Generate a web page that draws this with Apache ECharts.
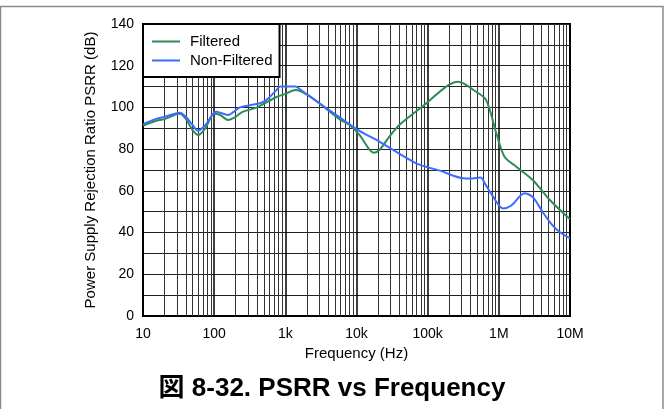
<!DOCTYPE html>
<html>
<head>
<meta charset="utf-8">
<script src="https://cdn.jsdelivr.net/npm/echarts@6/dist/echarts.min.js"></script>
<style>
html,body{margin:0;padding:0;background:#fff;}
#chart{width:664px;height:409px;}
</style>
</head>
<body>
<div id="chart"></div>
<script>
// Frequencies (Hz) and PSRR (dB)
var filteredFreq = [10, 15, 20, 30, 33, 40, 50, 60, 75, 100, 120, 157, 200, 250, 400, 750, 1000, 1400, 2000, 3000, 5800, 8000, 11000, 15300, 17600, 21000, 29000, 40000, 96000, 182000, 266000, 480000, 665000, 922000, 1200000, 1760000, 3000000, 5200000, 10000000];
var filteredPsrr = [91.2, 93.5, 94.4, 96.8, 97, 94.5, 89, 86.8, 90, 97, 96.5, 94, 95.5, 97.9, 100, 105, 106.5, 108.3, 106.2, 102, 94.3, 91.6, 86.8, 79.6, 78.3, 79.6, 86, 91.6, 102, 110, 112.3, 107.5, 103.5, 87.6, 76.4, 71.6, 65.2, 55.6, 46.4];
var nonFilteredFreq = [10, 15, 20, 33, 40, 50, 59, 75, 107, 157, 230, 437, 540, 750, 850, 1400, 1600, 3000, 5800, 11000, 21000, 69000, 148000, 316000, 400000, 550000, 650000, 830000, 1150000, 1500000, 2300000, 3000000, 4200000, 5500000, 7000000, 10000000];
var nonFilteredPsrr = [92, 94.4, 95.4, 97.5, 95.5, 91.5, 88.8, 91.5, 97.9, 96.4, 100, 102, 103.5, 108.3, 110, 110, 108.7, 102, 95.2, 88.8, 83.6, 73.2, 69.7, 66, 65.9, 66.4, 63, 57.2, 51.6, 53, 58.8, 57, 49.5, 44, 40.5, 37.2];
var xTickLabels = {10: '10', 100: '100', 1000: '1k', 10000: '10k', 100000: '100k', 1000000: '1M', 10000000: '10M'};
var minorFreqs = [];
[10, 100, 1000, 10000, 100000, 1000000].forEach(function (d) {
  for (var k = 2; k <= 9; k++) minorFreqs.push(d * k);
});
var seriesNames = ['Filtered', 'Non-Filtered'];

function pairs(xs, ys) { return xs.map(function (x, i) { return [x, ys[i]]; }); }

var FONT = '"Liberation Sans", Arial, Helvetica, sans-serif';
var chart = echarts.init(document.getElementById('chart'), null, {renderer: 'canvas'});
chart.setOption({
  animation: false,
  backgroundColor: '#fff',
  graphic: [{
    type: 'rect', shape: {x: 0.5, y: 6.5, width: 662.5, height: 420},
    style: {fill: 'none', stroke: '#8a8a8a', lineWidth: 1.5}, z: -10
  }],
  title: {
    text: '図 8-32. PSRR vs Frequency',
    left: 'center', top: 371,
    textStyle: {fontFamily: '"Liberation Sans", Arial, "Noto Sans CJK JP", sans-serif', fontSize: 26, fontWeight: 'bold', color: '#000'}
  },
  grid: {left: 143, right: 94, top: 24, bottom: 93, show: true, borderColor: '#000', borderWidth: 2, backgroundColor: 'transparent'},
  legend: {
    orient: 'vertical', left: 143, top: 24, z: 20,
    data: seriesNames,
    backgroundColor: '#fff', borderColor: '#000', borderWidth: 2, borderRadius: 0,
    padding: [10, 7, 9, 9], itemGap: 4, itemWidth: 28, itemHeight: 14,
    textStyle: {fontFamily: FONT, fontSize: 15, color: '#000', padding: [0, 0, 0, 5]},
    icon: 'path://M0,6 L28,6 L28,8 L0,8 Z'
  },
  xAxis: {
    type: 'log', logBase: 10, min: 10, max: 10000000,
    name: 'Frequency (Hz)', nameLocation: 'middle', nameGap: 29,
    nameTextStyle: {fontFamily: FONT, fontSize: 15, color: '#000'},
    axisLine: {show: true, lineStyle: {color: '#000', width: 2}},
    axisTick: {show: false},
    axisLabel: {fontFamily: FONT, fontSize: 14, color: '#000', margin: 11,
      formatter: function (v) { var r = Math.round(v); return xTickLabels[r] || ''; }},
    splitLine: {show: true, lineStyle: {color: '#000', width: 1.5}}
  },
  yAxis: {
    type: 'value', min: 0, max: 140, interval: 10,
    name: 'Power Supply Rejection Ratio PSRR (dB)', nameLocation: 'middle', nameGap: 45,
    nameTextStyle: {fontFamily: FONT, fontSize: 15, color: '#000'},
    axisLine: {show: true, lineStyle: {color: '#000', width: 2}},
    axisTick: {show: false},
    axisLabel: {fontFamily: FONT, fontSize: 14, color: '#000', margin: 9,
      formatter: function (v) { return v % 20 === 0 ? String(v) : ''; }},
    splitLine: {show: true, lineStyle: {color: '#222', width: 1.2}}
  },
  series: [{
    name: 'minor-grid', type: 'line', data: [], z: 1, silent: true,
    markLine: {
      silent: true, symbol: 'none', animation: false,
      label: {show: false},
      lineStyle: {color: '#333', width: 1, type: 'solid'},
      data: minorFreqs.map(function (f) { return {xAxis: f}; })
    }
  }, {
    name: 'Filtered', type: 'line', smooth: 0.3, symbol: 'none',
    data: pairs(filteredFreq, filteredPsrr),
    lineStyle: {color: '#2e8b57', width: 2}, itemStyle: {color: '#2e8b57'}, z: 5
  }, {
    name: 'Non-Filtered', type: 'line', smooth: 0.3, symbol: 'none',
    data: pairs(nonFilteredFreq, nonFilteredPsrr),
    lineStyle: {color: '#3d6bff', width: 2}, itemStyle: {color: '#3d6bff'}, z: 6
  }]
});
</script>
</body>
</html>
